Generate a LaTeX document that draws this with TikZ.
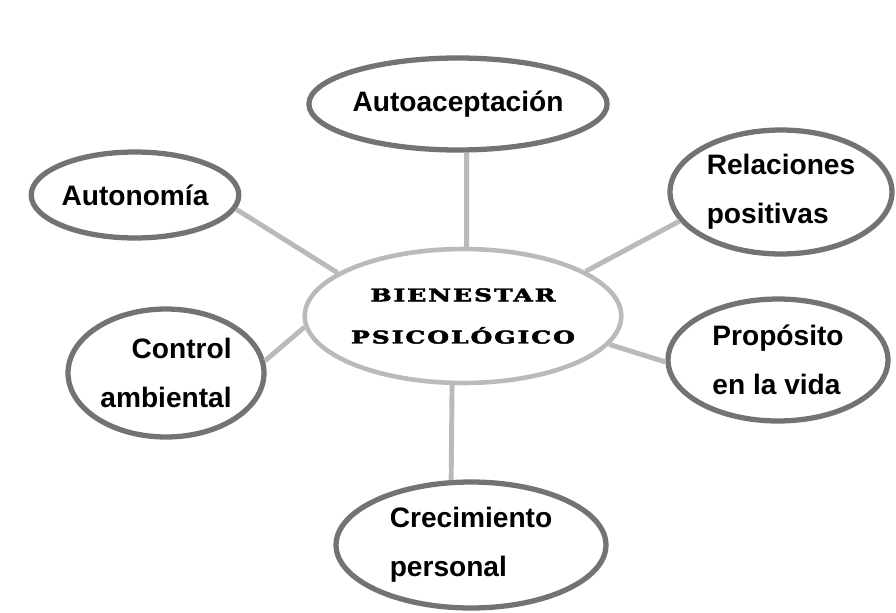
\documentclass[tikz,border=0pt]{standalone}
\usepackage{fontspec}
\setmainfont{Liberation Sans}
\newfontfamily\titlefont[LetterSpace=8, FakeBold=2.5]{DejaVu Serif}
\usepackage{graphicx}
\usetikzlibrary{shapes.geometric}

\tikzset{
    factor/.style={ellipse, draw=factorcolor, line width=3pt, inner sep=0pt,
        font=\fontsize{16pt}{28pt}\selectfont\bfseries},
    core/.style={ellipse, draw=linkcolor, line width=2.6pt, inner sep=0pt,
        font={\titlefont\bfseries\fontsize{10pt}{24pt}\selectfont}},
    link/.style={draw=linkcolor, line width=2.8pt}
}

\begin{document}
\begin{tikzpicture}[x=0.02cm, y=-0.02cm]
    \colorlet{factorcolor}{black!55}
    \colorlet{linkcolor}{black!27}
    \useasboundingbox (0,0) rectangle (896,612);

    % --- centro ---
    \node[core, minimum width=5.12cm, minimum height=2.68cm, align=center] (bien) at (463,316)
        {\scalebox{1.42}[1]{BIENESTAR}\\\scalebox{1.42}[1]{PSICOLÓGICO}};

    % --- dimensiones ---
    \node[factor, minimum width=5.56cm, minimum height=1.84cm] (acep) at (458,104) {Autoaceptación};
    \node[factor, minimum width=3.88cm, minimum height=1.72cm] (auton) at (135,195) {Autonomía};
    \node[factor, minimum width=4.44cm, minimum height=2.48cm, align=left] (rel) at (781,192)
        {Relaciones\\positivas};
    \node[factor, minimum width=3.92cm, minimum height=2.56cm, align=right] (ctrl) at (166,373)
        {Control\\ambiental};
    \node[factor, minimum width=4.4cm, minimum height=2.44cm, align=left] (prop) at (778,360)
        {Propósito\\en la vida};
    \node[factor, minimum width=5.4cm, minimum height=2.52cm, align=left] (crec) at (471,545)
        {Crecimiento\\personal};

    % --- enlaces ---
    \draw[link] (bien.87) -- (acep.-80);
    \draw[link] (bien.161) -- (auton.-8);
    \draw[link] (bien.20) -- (rel.196);
    \draw[link] (bien.184) -- (ctrl.7);
    \draw[link] (bien.-11) -- (prop.181);
    \draw[link] (bien.-99) -- (crec.107);
\end{tikzpicture}
\end{document}
